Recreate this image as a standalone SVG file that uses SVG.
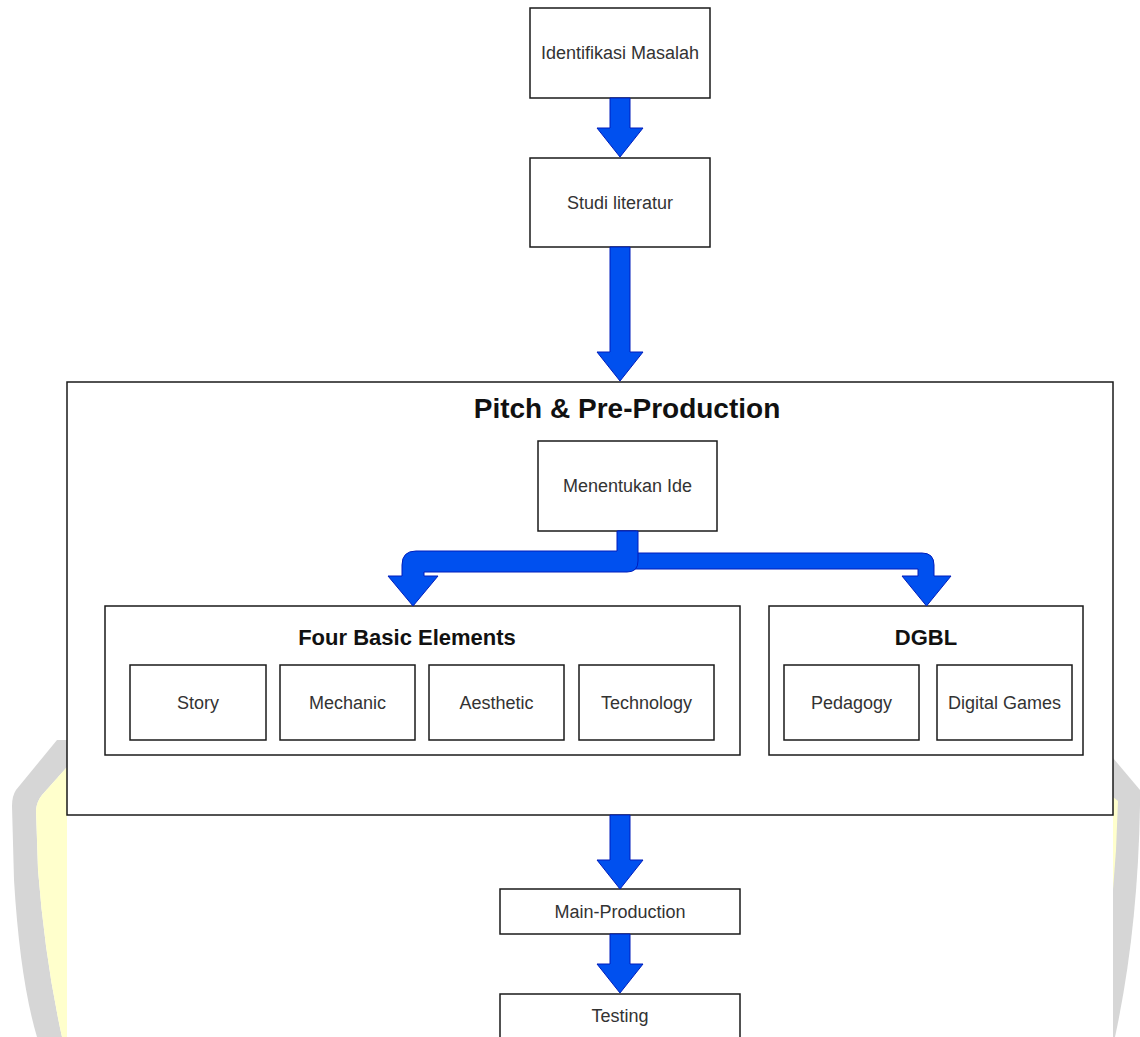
<svg xmlns="http://www.w3.org/2000/svg" width="1140" height="1037" viewBox="0 0 1140 1037">
<style>
.box{fill:#fff;stroke:#1a1a1a;stroke-width:1.5}
.t{font-family:"Liberation Sans",Arial,sans-serif;font-size:18px;fill:#333;text-anchor:middle}
.h{font-family:"Liberation Sans",Arial,sans-serif;font-weight:bold;fill:#111;text-anchor:middle}
.arr{fill:#0050EF;stroke:#001DBC;stroke-width:1;stroke-linejoin:round}
</style>
<rect width="1140" height="1037" fill="#fff"/>
<g id="watermark">
<path d="M67 740 L57 740 L16 790 Q12 796 12 806 L14 880 Q20 980 37 1037 L62 1037 Q45 960 38 870 L36 810 Q37 801 42 795 L67 767 Z" fill="#D6D6D6"/>
<path d="M67 767 L42 795 Q37 801 36 810 L38 870 Q45 960 62 1037 L67 1037 Z" fill="#FFFFCC"/>
<path d="M1113 758 L1140 790 L1140 805 Q1138 930 1115 1037 L1113 1037 Z" fill="#D6D6D6"/>
<path d="M1113 797 L1118 801 L1116 850 L1113 890 Z" fill="#FFFFCC"/>
</g>
<g id="pitch">
<rect class="box" x="67" y="382" width="1046" height="433"/>
<text class="h" x="627" y="418" font-size="28">Pitch &amp; Pre-Production</text>
</g>
<g id="identifikasi"><rect class="box" x="530" y="8" width="180" height="90"/><text class="t" x="620" y="59">Identifikasi Masalah</text></g>
<g id="studi"><rect class="box" x="530" y="158" width="180" height="89"/><text class="t" x="620" y="209">Studi literatur</text></g>
<g id="ide"><rect class="box" x="538" y="441" width="179" height="90"/><text class="t" x="627.5" y="492">Menentukan Ide</text></g>
<g id="four">
<rect class="box" x="105" y="606" width="635" height="149"/>
<text class="h" x="407" y="645" font-size="22">Four Basic Elements</text>
</g>
<g id="story"><rect class="box" x="130" y="665" width="136" height="75"/><text class="t" x="198" y="709">Story</text></g>
<g id="mechanic"><rect class="box" x="280" y="665" width="135" height="75"/><text class="t" x="347.5" y="709">Mechanic</text></g>
<g id="aesthetic"><rect class="box" x="429" y="665" width="135" height="75"/><text class="t" x="496.5" y="709">Aesthetic</text></g>
<g id="technology"><rect class="box" x="579" y="665" width="135" height="75"/><text class="t" x="646.5" y="709">Technology</text></g>
<g id="dgbl">
<rect class="box" x="769" y="606" width="314" height="149"/>
<text class="h" x="926" y="645" font-size="22">DGBL</text>
</g>
<g id="pedagogy"><rect class="box" x="784" y="665" width="135" height="75"/><text class="t" x="851.5" y="709">Pedagogy</text></g>
<g id="digital"><rect class="box" x="937" y="665" width="135" height="75"/><text class="t" x="1004.5" y="709">Digital Games</text></g>
<g id="main"><rect class="box" x="500" y="889" width="240" height="45"/><text class="t" x="620" y="918">Main-Production</text></g>
<g id="testing"><rect class="box" x="500" y="994" width="240" height="50"/><text class="t" x="620" y="1022">Testing</text></g>
<g id="connectors">
<polygon class="arr" points="610,98 630,98 630,128 643,128 620,157 597,128 610,128"/>
<polygon class="arr" points="610,247 630,247 630,352 643,352 620,381 597,352 610,352"/>
<polygon class="arr" points="610,815 630,815 630,860 643,860 620,889 597,860 610,860"/>
<polygon class="arr" points="610,934 630,934 630,964 643,964 620,993 597,964 610,964"/>
<path class="arr" d="M618 531 L636 531 L636 553 L922 553 Q934 553 934 565 L934 576 L951 576 L926.5 606 L902 576 L918 576 L918 569 L618 569 Z"/>
<path class="arr" d="M617 531 L638 531 L638 561 Q638 572 627 572 L424 572 L424 576 L438 576 L413 606 L388 576 L402 576 L402 565 Q402 551 416 551 L617 551 Z"/>
</g>
</svg>
